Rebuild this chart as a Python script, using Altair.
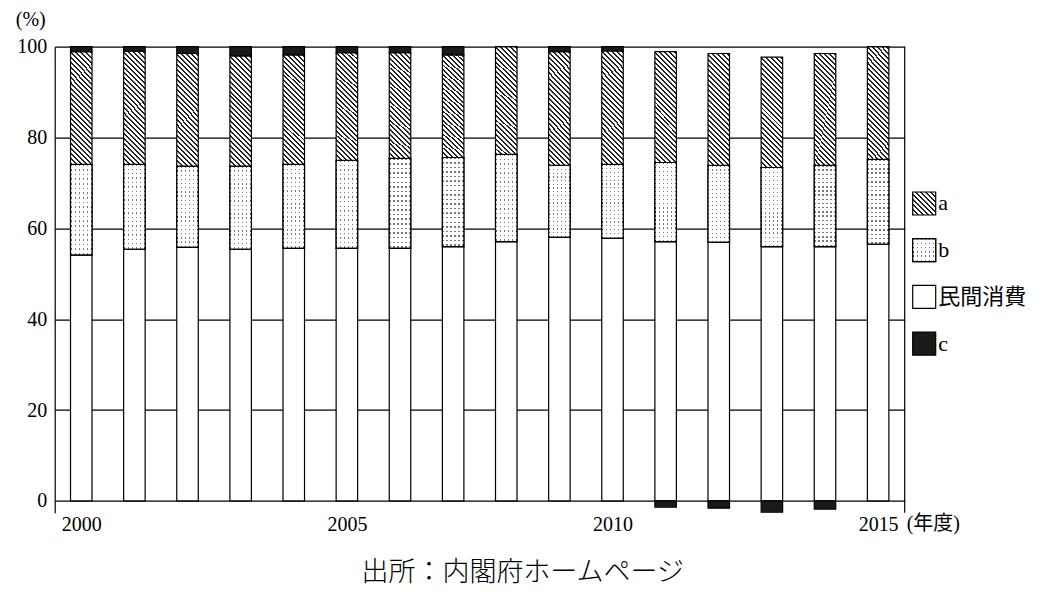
import math
import altair as alt
import pandas as pd

# ---------------- data ----------------
years = list(range(2000, 2016))
private = [54.1, 55.4, 55.8, 55.4, 55.6, 55.6, 55.6, 56.0, 57.1, 58.0, 57.8, 57.1, 56.9, 56.0, 56.0, 56.5]
b_vals = [20.0, 18.7, 17.9, 18.3, 18.5, 19.4, 19.8, 19.6, 19.2, 15.9, 16.3, 17.4, 17.0, 17.4, 17.9, 18.7]
a_vals = [24.8, 24.9, 24.8, 24.3, 24.1, 23.7, 23.3, 22.6, 23.7, 25.0, 25.0, 24.4, 24.6, 24.3, 24.6, 24.8]
c_vals = [1.1, 1.0, 1.5, 2.0, 1.8, 1.3, 1.3, 1.8, 0.0, 1.1, 0.9, -1.4, -1.6, -2.5, -1.8, 0.0]

components = ["民間消費", "b", "a", "c"]          # stacking order, bottom to top
legend_labels = ["a", "b", "民間消費", "c"]       # legend order, top to bottom
x_ticks = [2000, 2005, 2010, 2015]
y_ticks = [0, 20, 40, 60, 80, 100]

rows = []
for i, yr in enumerate(years):
    for order, (comp, vals) in enumerate(zip(components, [private, b_vals, a_vals, c_vals])):
        rows.append({"year": yr, "comp": comp, "value": vals[i], "order": order})
df = pd.DataFrame(rows)
legend_df = pd.DataFrame({"label": legend_labels})
one_row = pd.DataFrame({"k": [0]})

# ---------------- layout / style ----------------
PLOT_W, PLOT_H = 850, 466
X_DOMAIN = [1999.5, 2015.5]
Y_DOMAIN = [-2.6, 100]
BAR_W = 21.5
SERIF = "Liberation Serif, 'Noto Sans CJK JP', serif"
CJK = "'Noto Sans CJK JP', sans-serif"
LINE = 1.2


def stripes(x1, y1, x2, y2, n, frac, on, off):
    stops = []
    k = 0
    while k / n < 1:
        t0 = k / n
        t1 = min((k + frac) / n, 1.0)
        t2 = min((k + 1) / n, 1.0)
        stops += [
            {"offset": round(t0, 5), "color": on},
            {"offset": round(t1, 5), "color": on},
            {"offset": round(t1, 5), "color": off},
            {"offset": round(t2, 5), "color": off},
        ]
        k += 1
    return {"gradient": "linear", "x1": x1, "y1": y1, "x2": x2, "y2": y2, "stops": stops}


def hatch(w, h, period=3.5, frac=0.4):
    s = (w + h) / (w * w + h * h)
    n = (w + h) / math.sqrt(2) / period
    return stripes(0, 1, round(s * w, 5), round(1 - s * h, 5), n, frac, "#222222", "#ffffff")


def dot_cols(w, period=4.0):
    return stripes(0, 0, 1, 0, w / period, 0.33, "#7a7a7a", "#ffffff")


def dot_rows(h, period=4.2):
    return stripes(0, 0, 0, 1, h / period, 0.33, "rgba(255,255,255,0)", "#ffffff")


x_enc = alt.X(
    "year:Q",
    scale=alt.Scale(domain=X_DOMAIN, nice=False, zero=False, padding=0),
    axis=alt.Axis(values=x_ticks, format="d", grid=False, domain=False, ticks=False,
                  labelPadding=2, labelFontSize=20, labelFont=SERIF, labelColor="black",
                  labelFlush=False, title=None),
)
y_enc = alt.Y(
    "y1:Q",
    scale=alt.Scale(domain=Y_DOMAIN, nice=False, zero=False, padding=0),
    axis=alt.Axis(values=y_ticks, grid=True, gridColor="black", gridWidth=LINE, gridOpacity=1,
                  domain=True, domainColor="black", domainWidth=LINE, ticks=False,
                  labelPadding=8, labelFontSize=20, labelFont=SERIF, labelColor="black",
                  title=None),
)

base = alt.Chart(df).transform_stack(
    stack="value", groupby=["year"], as_=["y0", "y1"],
    sort=[alt.SortField("order", order="ascending")],
)


def seg(comp, fill):
    return base.transform_filter(alt.datum.comp == comp).mark_bar(
        size=BAR_W, fill=fill, stroke="black", strokeWidth=LINE
    ).encode(x=x_enc, y=y_enc, y2="y0:Q")


bar_a = seg("a", hatch(BAR_W, 24.3 * PLOT_H / 102.6))
bar_priv = seg("民間消費", "#ffffff")
bar_b1 = seg("b", dot_cols(BAR_W))
bar_b2 = seg("b", dot_rows(18.0 * PLOT_H / 102.6))
bar_c = seg("c", "#1a1a1a")

right_frame = alt.Chart(one_row).mark_rule(color="black", strokeWidth=LINE).encode(
    x=alt.value(PLOT_W), y=alt.value(0), y2=alt.value(PLOT_H)
)


def note(text, x, y, size, font, align="center", weight="normal"):
    return alt.Chart(one_row).mark_text(
        text=text, fontSize=size, font=font, align=align, baseline="middle",
        color="black", fontWeight=weight
    ).encode(x=alt.value(x), y=alt.value(y))


t_pct = note("(%)", -24, -27, 20, SERIF)
t_year = note("(年度)", 852, 477, 20, SERIF, align="left")
t_src = note("出所：内閣府ホームページ", 468, 526, 27, CJK, weight=300)

bars_group = alt.layer(bar_priv, bar_b1, bar_b2, bar_a, bar_c, right_frame, t_pct, t_year, t_src)

# ---------------- custom legend ----------------
SQ = 23
LEG_X = 869.5
leg_y = alt.Y("label:N", sort=legend_labels,
              scale=alt.Scale(domain=legend_labels, range=[156.8, 296.9], padding=0),
              axis=None)
leg = alt.Chart(legend_df)


def leg_sq(label, fill):
    return leg.transform_filter(alt.datum.label == label).mark_point(
        shape="square", size=SQ * SQ, filled=True, fill=fill, fillOpacity=1,
        stroke="black", strokeWidth=LINE, strokeOpacity=1, opacity=1
    ).encode(x=alt.value(LEG_X), y=leg_y)


leg_a = leg_sq("a", hatch(SQ, SQ))
leg_b1 = leg_sq("b", dot_cols(SQ))
leg_b2 = leg_sq("b", dot_rows(SQ))
leg_p = leg_sq("民間消費", "#ffffff")
leg_c = leg_sq("c", "#1a1a1a")
leg_txt = leg.mark_text(align="left", baseline="middle", fontSize=22, font=SERIF,
                        color="black").encode(x=alt.value(883.5), y=leg_y, text="label:N")

legend_group = alt.layer(leg_a, leg_b1, leg_b2, leg_p, leg_c, leg_txt)

chart = alt.layer(bars_group, legend_group).resolve_scale(y="independent").properties(
    width=PLOT_W,
    height=PLOT_H,
    padding={"left": 46.7, "top": 38.7, "right": 127.3, "bottom": 78},
    autosize=alt.AutoSizeParams(type="none"),
    background="white",
).configure_view(stroke=None)

chart.save("out.html", embed_options={"renderer": "svg", "actions": False})
